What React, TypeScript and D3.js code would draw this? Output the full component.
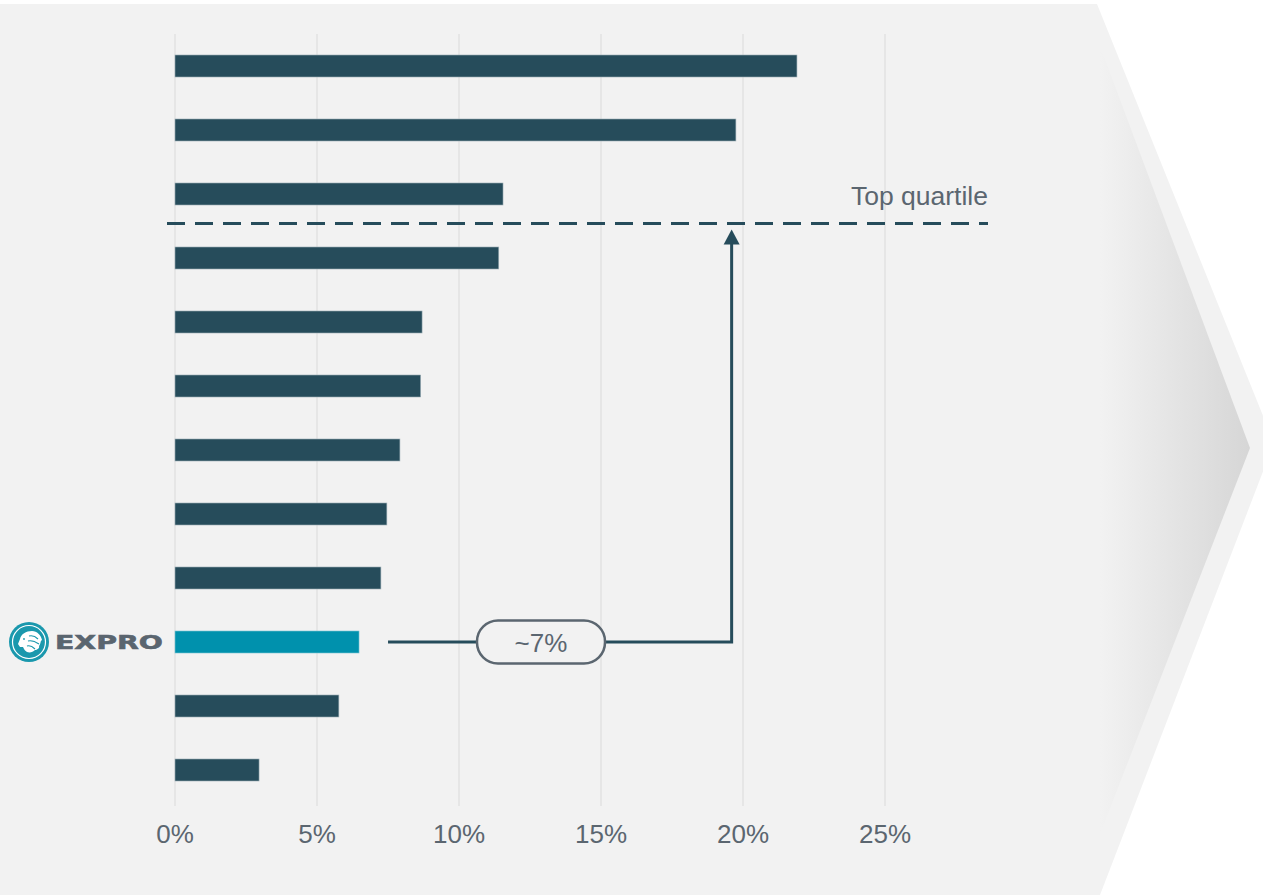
import React from "react";
import * as d3 from "d3";

const companies = ["C1", "C2", "C3", "C4", "C5", "C6", "C7", "C8", "C9", "Expro", "C11", "C12"];
const values = [21.9, 19.75, 11.55, 11.4, 8.7, 8.65, 7.92, 7.46, 7.25, 6.48, 5.77, 2.96];
const xTicks = [0, 5, 10, 15, 20, 25];
const highlight = "Expro";
const quartileLabel = "Top quartile";
const gapLabel = "~7%";
const gapTarget = 19.6;

const W = 1263;
const H = 895;
const DARK = "#264c5b";
const TEAL = "#0091ad";
const GREY_TEXT = "#5b6670";

export default function App() {
  const x = d3.scaleLinear().domain([0, 25]).range([175, 885]);
  const y = d3.scaleBand<string>().domain(companies).range([34, 802]).paddingInner(0.656).paddingOuter(0.328);
  const bh = y.bandwidth();
  const ex = companies.indexOf(highlight);
  const exY = (y(highlight) as number) + bh / 2;
  const qY = ((y(companies[2]) as number) + bh + (y(companies[3]) as number)) / 2 - 2.5;
  const arrowX = x(gapTarget);
  const lineStart = x(values[ex]) + 29;
  const pillCx = 541;
  const pillW = 128;
  const pillH = 43;

  return (
    <svg width={W} height={H} style={{ position: "absolute", left: 0, top: 0 }} fontFamily="'Liberation Sans', Arial, sans-serif">
      <defs>
        <linearGradient id="chev" x1="0" x2="1" y1="0" y2="0">
          <stop offset="0" stopColor="#f2f2f2" />
          <stop offset="1" stopColor="#d6d6d6" />
        </linearGradient>
      </defs>
      <rect x={0} y={0} width={W} height={H} fill="#ffffff" />
      <polygon points="0,4 1097,4 1274,443 1100,895 0,895" fill="#f2f2f2" />
      <polygon points="1100,46 1250,448 1100,834" fill="url(#chev)" />

      {xTicks.map((t) => (
        <line key={"g" + t} x1={x(t)} x2={x(t)} y1={34} y2={806} stroke="#e6e6e6" strokeWidth={2} />
      ))}

      {companies.map((c, i) => (
        <rect
          key={c}
          x={x(0)}
          y={y(c) as number}
          width={x(values[i]) - x(0)}
          height={bh}
          fill={c === highlight ? TEAL : DARK}
          stroke={c === highlight ? "#7fc6d4" : "#9fb0b8"}
          strokeWidth={0.6}
        />
      ))}

      {xTicks.map((t) => (
        <text key={"t" + t} x={x(t)} y={843} textAnchor="middle" fontSize={26} fill={GREY_TEXT}>
          {t}%
        </text>
      ))}

      <line x1={167} x2={988} y1={qY} y2={qY} stroke={DARK} strokeWidth={3} strokeDasharray="18,10" />
      <text x={988} y={205} textAnchor="end" fontSize={26.5} fill={GREY_TEXT}>
        {quartileLabel}
      </text>

      <path
        d={`M${lineStart},${exY} H${arrowX} V${qY + 20}`}
        fill="none"
        stroke={DARK}
        strokeWidth={3}
      />
      <polygon points={`${arrowX - 8},${qY + 21} ${arrowX + 8},${qY + 21} ${arrowX},${qY + 6}`} fill={DARK} />

      <rect
        x={pillCx - pillW / 2}
        y={exY - pillH / 2}
        width={pillW}
        height={pillH}
        rx={21}
        ry={21}
        fill="#f2f2f2"
        stroke={GREY_TEXT}
        strokeWidth={2.5}
      />
      <text x={pillCx} y={exY + 10} textAnchor="middle" fontSize={26} fill={GREY_TEXT}>
        {gapLabel}
      </text>

      <g transform={`translate(29,${exY})`}>
        <circle r={20} fill="#1a98ad" />
        <circle r={16.5} fill="none" stroke="#ffffff" strokeWidth={1.2} />
        <path
          d="M-11,2 L-9,-3 C-8,-8 -3,-11 3,-11 C8,-11 12,-7 13,-2 C11,-1 12,2 10,4 C11,6 8,8 6,8 C4,10 1,11 -2,10 C-4,9 -5,7 -6,5 L-9,5 Z"
          fill="#ffffff"
        />
        <path d="M0,-6 C4,-7 7,-5 9,-3 M-1,-1 C3,-2 7,0 10,2 M-2,4 C1,3 4,5 6,7" stroke="#1a98ad" strokeWidth={1.1} fill="none" />
        <circle cx={-5} cy={-3} r={0.9} fill="#1a98ad" />
      </g>
      <text
        x={55}
        y={exY + 7}
        fontSize={20}
        fontWeight={900}
        fill="#5a656f"
        textLength={108}
        lengthAdjust="spacingAndGlyphs"
        fontFamily="'DejaVu Sans', sans-serif"
        stroke="#5a656f"
        strokeWidth={0.6}
      >
        EXPRO
      </text>
    </svg>
  );
}
